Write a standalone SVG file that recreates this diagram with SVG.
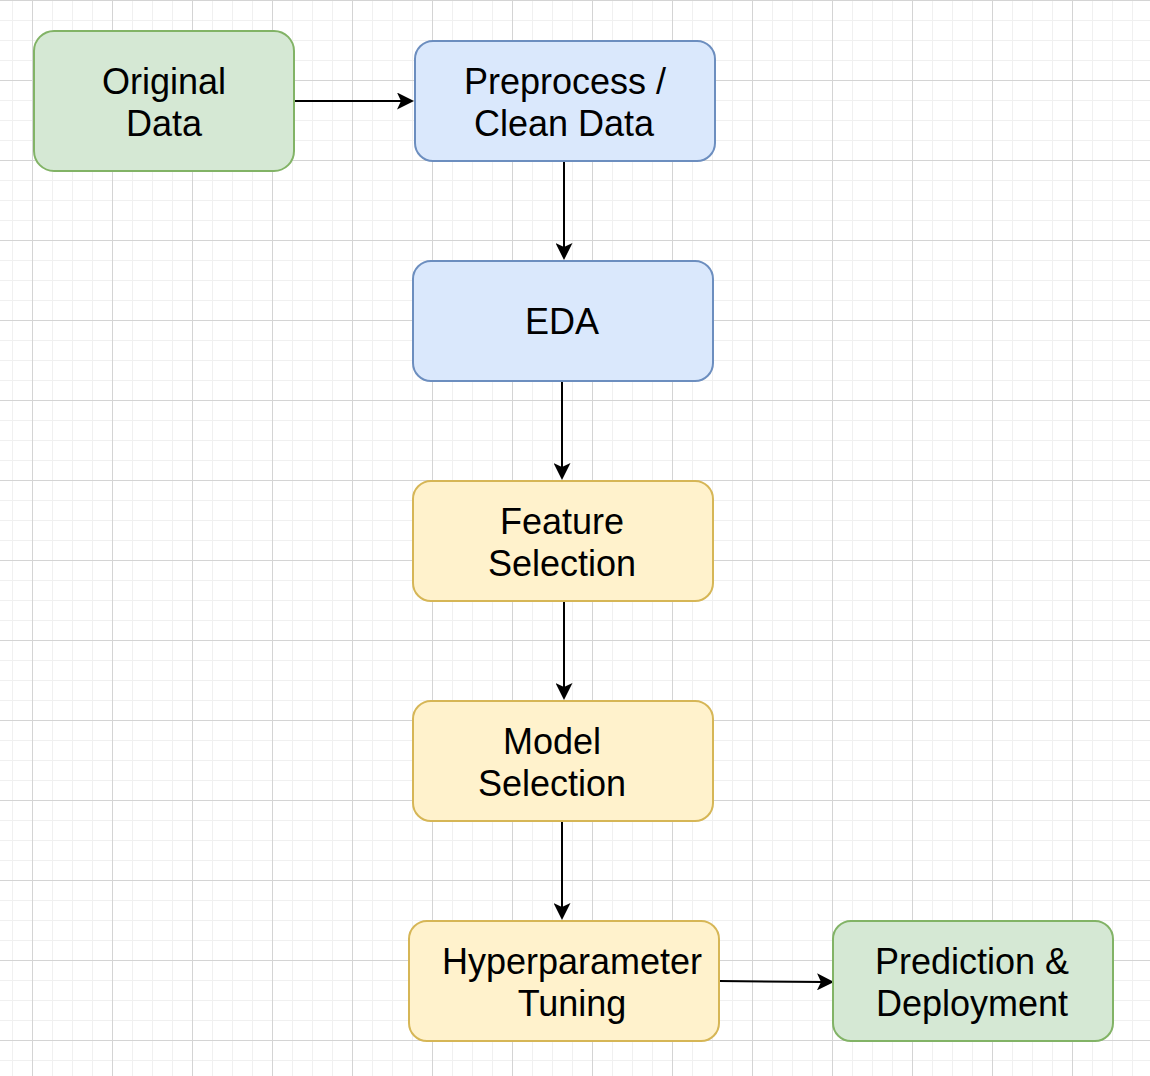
<svg xmlns="http://www.w3.org/2000/svg" width="1150" height="1076" viewBox="0 0 1150 1076">
  <style>
    .node rect { stroke-width: 2; }
    .green rect { fill: #d5e8d4; stroke: #82b366; }
    .blue rect { fill: #dae8fc; stroke: #6c8ebf; }
    .yellow rect { fill: #fff2cc; stroke: #d6b656; }
    .node text { font-family: "Liberation Sans", Arial, Helvetica, sans-serif; font-size: 36px; fill: #000; text-anchor: middle; }
    .edge { fill: none; stroke: #000; stroke-width: 2; marker-end: url(#arrow); }
  </style>
  <defs>
    <pattern id="minor" patternUnits="userSpaceOnUse" x="12" y="0" width="20" height="20">
      <path d="M0.5,0 V20 M0,0.5 H20" stroke="#f0f0f0" stroke-width="1" fill="none"/>
    </pattern>
    <pattern id="major" patternUnits="userSpaceOnUse" x="32" y="0" width="80" height="80">
      <path d="M0.5,0 V80 M0,0.5 H80" stroke="#d4d4d4" stroke-width="1" fill="none"/>
    </pattern>
    <marker id="arrow" viewBox="0 0 17 17" refX="4" refY="8.5" markerWidth="17" markerHeight="17" markerUnits="userSpaceOnUse" orient="auto">
      <path d="M0,0 L17,8.5 L0,17 L4,8.5 Z" fill="#000"/>
    </marker>
  </defs>
  <rect width="1150" height="1076" fill="#ffffff"/>
  <rect width="1150" height="1076" fill="url(#minor)"/>
  <rect width="1150" height="1076" fill="url(#major)"/>

  <g id="connectors">
    <path class="edge" d="M294,101 H401"/>
    <path class="edge" d="M564,161 V247"/>
    <path class="edge" d="M562,381 V467"/>
    <path class="edge" d="M564,601 V687"/>
    <path class="edge" d="M562,821 V907"/>
    <path class="edge" d="M719,981 L821,981.9"/>
  </g>

  <g id="original-data" class="node green">
    <rect x="34" y="31" width="260" height="140" rx="20" ry="20"/>
    <text x="164" y="94">Original</text>
    <text x="164" y="136">Data</text>
  </g>
  <g id="preprocess" class="node blue">
    <rect x="415" y="41" width="300" height="120" rx="18" ry="18"/>
    <text x="565" y="94">Preprocess /</text>
    <text x="564" y="136">Clean Data</text>
  </g>
  <g id="eda" class="node blue">
    <rect x="413" y="261" width="300" height="120" rx="18" ry="18"/>
    <text x="562" y="334">EDA</text>
  </g>
  <g id="feature-selection" class="node yellow">
    <rect x="413" y="481" width="300" height="120" rx="18" ry="18"/>
    <text x="562" y="534">Feature</text>
    <text x="562" y="576">Selection</text>
  </g>
  <g id="model-selection" class="node yellow">
    <rect x="413" y="701" width="300" height="120" rx="18" ry="18"/>
    <text x="552" y="754">Model</text>
    <text x="552" y="796">Selection</text>
  </g>
  <g id="hyperparameter-tuning" class="node yellow">
    <rect x="409" y="921" width="310" height="120" rx="18" ry="18"/>
    <text x="572" y="974">Hyperparameter</text>
    <text x="572" y="1016">Tuning</text>
  </g>
  <g id="prediction-deployment" class="node green">
    <rect x="833" y="921" width="280" height="120" rx="18" ry="18"/>
    <text x="972" y="974">Prediction &amp;</text>
    <text x="972" y="1016">Deployment</text>
  </g>
</svg>
